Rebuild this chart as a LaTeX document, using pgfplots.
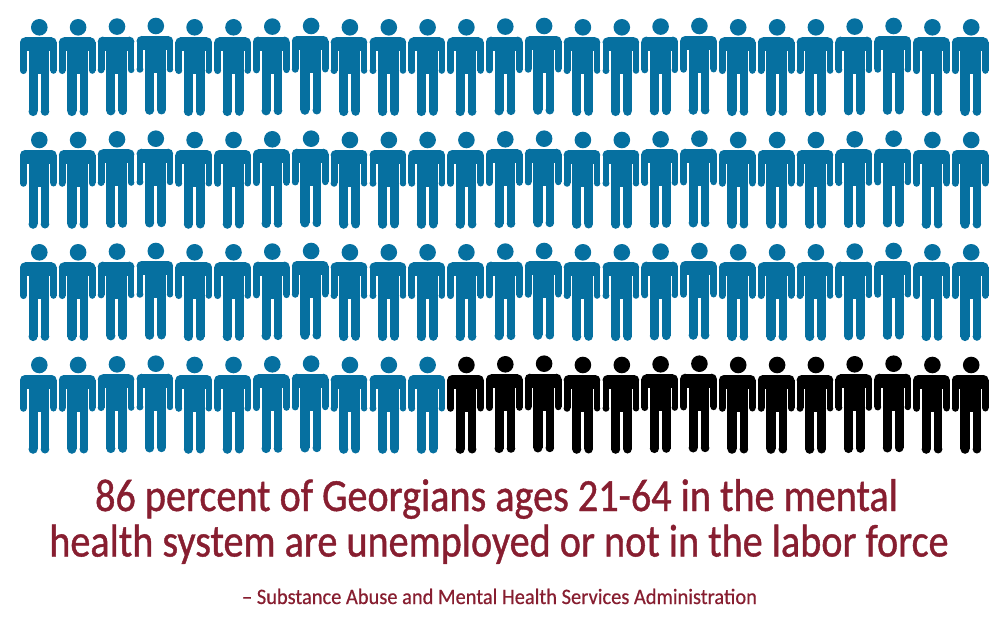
\documentclass[border=0pt]{standalone}
\usepackage{pgfplots}
\usepackage{fontspec}
\pgfplotsset{compat=1.18}
\newfontfamily\titlefont[FakeStretch=0.873,FakeBold=0.9]{Carlito}
\newfontfamily\srcfont[FakeStretch=0.93,FakeBold=0.5]{Carlito}
\definecolor{pblue}{RGB}{6,112,160}
\definecolor{ptext}{RGB}{135,30,48}
\newcommand{\prect}[4]{\pgfpathrectangle{\pgfpoint{#1pt}{#2pt}}{\pgfpoint{#3pt}{#4pt}}\pgfusepathqfill}
\newcommand{\pcirc}[3]{\pgfpathcircle{\pgfpoint{#1pt}{#2pt}}{#3pt}\pgfusepathqfill}
\pgfdeclareplotmark{person}{%
  \pcirc{0}{0}{8.3}%
  % shoulders
  \pcirc{-14.3}{-15}{5}\pcirc{12.4}{-15}{5}%
  \prect{-14.3}{-24}{26.7}{14}%
  \prect{-19.3}{-24}{36.7}{9}%
  % arms
  \prect{-19.3}{-43.3}{6.9}{24}\pcirc{-15.85}{-43.3}{3.45}%
  \prect{11}{-43.3}{6.4}{24}\pcirc{14.2}{-43.3}{3.2}%
  % torso
  \prect{-10.8}{-47}{20.8}{37}%
  % legs
  \prect{-10.8}{-84.2}{9.2}{44}\pcirc{-6.2}{-84.2}{4.6}%
  \prect{1.4}{-84.2}{8.6}{44}\pcirc{5.7}{-84.2}{4.3}%
}
\begin{document}
\begin{tikzpicture}
\begin{axis}[hide axis, scale only axis, width=1000pt, height=639pt,
  xmin=0, xmax=1000, ymin=0, ymax=639, y dir=reverse, clip=false]
\path (axis cs:0,0) rectangle (axis cs:1000,639);
\addplot[only marks, mark=person, color=pblue, mark options={fill=pblue, draw=none}] coordinates {
(39.3,27.3)(78.1,27.3)(117.0,26.6)(155.8,26.0)(194.6,27.3)(233.5,27.3)(272.3,26.6)(311.1,26.0)(349.9,27.3)(388.8,27.3)(427.6,27.3)(466.4,27.3)(505.3,26.6)(544.1,26.0)(582.9,27.3)(621.8,27.3)(660.6,26.6)(699.4,26.0)(738.2,27.3)(777.1,27.3)(815.9,27.3)(854.7,26.6)(893.6,26.0)(932.4,27.3)(971.2,27.3)
(39.3,140)(78.1,140)(117.0,139.3)(155.8,138.7)(194.6,140)(233.5,140)(272.3,139.3)(311.1,138.7)(349.9,140)(388.8,140)(427.6,140)(466.4,140)(505.3,139.3)(544.1,138.7)(582.9,140)(621.8,140)(660.6,139.3)(699.4,138.7)(738.2,140)(777.1,140)(815.9,140)(854.7,139.3)(893.6,138.7)(932.4,140)(971.2,140)
(39.3,252.3)(78.1,252.3)(117.0,251.6)(155.8,251.0)(194.6,252.3)(233.5,252.3)(272.3,251.6)(311.1,251.0)(349.9,252.3)(388.8,252.3)(427.6,252.3)(466.4,252.3)(505.3,251.6)(544.1,251.0)(582.9,252.3)(621.8,252.3)(660.6,251.6)(699.4,251.0)(738.2,252.3)(777.1,252.3)(815.9,252.3)(854.7,251.6)(893.6,251.0)(932.4,252.3)(971.2,252.3)
(39.3,365)(78.1,365)(117.0,364.3)(155.8,363.7)(194.6,365)(233.5,365)(272.3,364.3)(311.1,363.7)(349.9,365)(388.8,365)(427.6,365)
};
\addplot[only marks, mark=person, color=black, mark options={fill=black, draw=none}] coordinates {
(466.4,365)(505.3,364.3)(544.1,363.7)(582.9,365)(621.8,365)(660.6,364.3)(699.4,363.7)(738.2,365)(777.1,365)(815.9,365)(854.7,364.3)(893.6,363.7)(932.4,365)(971.2,365)
};
\node[anchor=base, text=ptext, inner sep=0pt, font=\titlefont\fontsize{46}{46}\selectfont] at (axis cs:496.5,511) {86 percent of Georgians ages 21-64 in the mental};
\node[anchor=base, text=ptext, inner sep=0pt, font=\titlefont\fontsize{46}{46}\selectfont] at (axis cs:499,556.5) {health system are unemployed or not in the labor force};
\node[anchor=base, text=ptext, inner sep=0pt, font=\srcfont\fontsize{22}{22}\selectfont] at (axis cs:499.5,604) {– Substance Abuse and Mental Health Services Administration};
\end{axis}
\end{tikzpicture}
\end{document}
